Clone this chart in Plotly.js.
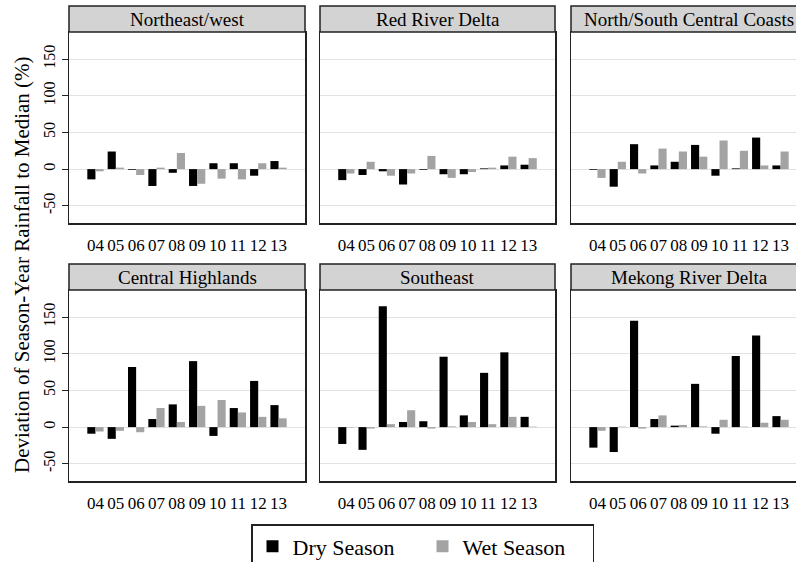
<!DOCTYPE html>
<html><head><meta charset="utf-8">
<script src="https://cdn.plot.ly/plotly-3.0.1.min.js"></script>
<style>html,body{margin:0;padding:0;overflow:hidden;background:#fff;width:796px;height:562px}</style>
</head><body><div id="chart"></div>
<script>
const years = ["04","05","06","07","08","09","10","11","12","13"];
const regions = ["Northeast/west","Red River Delta","North/South Central Coasts","Central Highlands","Southeast","Mekong River Delta"];
const dryNE  = [-14, 24, -1, -23, -5, -23, 8, 8, -9, 11];
const wetNE  = [-3, 2, -8, 2, 22, -20, -13, -14, 8, 2];
const dryRRD = [-15, -8, -3, -21, -1, -7, -7, 1, 5, 6];
const wetRRD = [-6, 10, -9, -6, 18, -12, -4, 2, 17, 15];
const dryNSC = [-1, -24, 34, 5, 10, 33, -9, 1, 43, 5];
const wetNSC = [-12, 10, -6, 28, 24, 17, 39, 25, 5, 24];
const dryCH  = [-9, -16, 82, 11, 31, 90, -12, 26, 63, 30];
const wetCH  = [-6, -5, -7, 26, 7, 29, 37, 20, 14, 12];
const drySE  = [-23, -31, 165, 7, 8, 96, 16, 74, 102, 14];
const wetSE  = [-0.6, -2, 4, 23, -2, 1, 7, 4, 14, 0.6];
const dryMK  = [-28, -34, 145, 11, 2, 59, -9, 97, 125, 15];
const wetMK  = [-5, 0.6, -2, 16, 3, 1, 10, 0.6, 6, 10];
const dryAll = [dryNE, dryRRD, dryNSC, dryCH, drySE, dryMK];
const wetAll = [wetNE, wetRRD, wetNSC, wetCH, wetSE, wetMK];
const seriesNames = ["Dry Season", "Wet Season"];
const yTicks = [-50, 0, 50, 100, 150];

const W = 812, H = 562;
const colPx = [[69,305],[320,555],[571,807]];
const rowPx = [[32,223],[290,481]];
const stripPx = [[6,32],[264,290]];
const font = "Liberation Serif";

const traces = [];
const layout = {
  width: W, height: H,
  margin: {l:0, r:0, t:0, b:0, autoexpand:false},
  paper_bgcolor: "#fff", plot_bgcolor: "#fff",
  font: {family: font, color: "#000", size: 16},
  barmode: "group", bargap: 0.2, bargroupgap: 0,
  showlegend: true,
  legend: {orientation: "h", x: 422.5/W, xanchor: "center", y: 1-524/H, yanchor: "top",
           bordercolor: "#222", borderwidth: 1.5, font: {family: font, size: 22, color:"#000"},
           itemwidth: 30, entrywidth: 125, traceorder: "normal"},
  shapes: [], annotations: []
};

for (let i = 0; i < 6; i++) {
  const r = Math.floor(i/3), c = i % 3;
  const ax = i === 0 ? "" : String(i+1);
  traces.push({type:"bar", x: years, y: dryAll[i], name: seriesNames[0], xaxis:"x"+ax, yaxis:"y"+ax,
    marker:{color:"#000", line:{width:0}}, showlegend: i===0, legendgroup:"dry", hoverinfo:"skip"});
  traces.push({type:"bar", x: years, y: wetAll[i], name: seriesNames[1], xaxis:"x"+ax, yaxis:"y"+ax,
    marker:{color:"#a3a3a3", line:{width:0}}, showlegend: i===0, legendgroup:"wet", hoverinfo:"skip"});
  const xd = [colPx[c][0]/W, Math.min(1, colPx[c][1]/W)];
  const yd = [1-rowPx[r][1]/H, 1-rowPx[r][0]/H];
  layout["xaxis"+ax] = {domain: xd, anchor: "y"+ax, type:"category", range:[-1.3, 10.3],
    showline:true, mirror:true, linecolor:"#222", linewidth:1.5, showgrid:false, zeroline:false,
    ticks:"", tickfont:{family:font, size:17}, ticklabelstandoff: 6, fixedrange:true};
  layout["yaxis"+ax] = {domain: yd, anchor: "x"+ax, range:[-73.5, 187],
    tickvals: yTicks, ticktext: yTicks.map(String),
    showticklabels: c===0, ticks: c===0 ? "outside" : "", ticklen: 6, tickcolor:"#222", tickwidth:1,
    tickangle: -90, tickfont:{family:font, size:16},
    showline:true, mirror:true, linecolor:"#222", linewidth:1.5,
    showgrid:true, gridcolor:"#e2e2e2", gridwidth:1.2, zeroline:false, fixedrange:true};
  layout.shapes.push({type:"rect", xref:"paper", yref:"paper",
    x0: xd[0], x1: colPx[c][1]/W, y0: 1-stripPx[r][1]/H, y1: 1-stripPx[r][0]/H,
    fillcolor:"#d3d3d3", line:{color:"#222", width:1.5}, layer:"above"});
  layout.annotations.push({xref:"paper", yref:"paper", x:(colPx[c][0]+colPx[c][1])/2/W,
    y: 1-(stripPx[r][0]+stripPx[r][1])/2/H, xanchor:"center", yanchor:"middle",
    text: regions[i], showarrow:false, font:{family:font, size:19, color:"#000"}});
}
layout.annotations.push({xref:"paper", yref:"paper", x: 22/W, y: 1-265/H, xanchor:"center", yanchor:"middle",
  text:"Deviation of Season-Year Rainfall to Median (%)", textangle:-90, showarrow:false,
  font:{family:font, size:21, color:"#000"}});

Plotly.newPlot("chart", traces, layout, {displayModeBar:false, staticPlot:true});
</script></body></html>
